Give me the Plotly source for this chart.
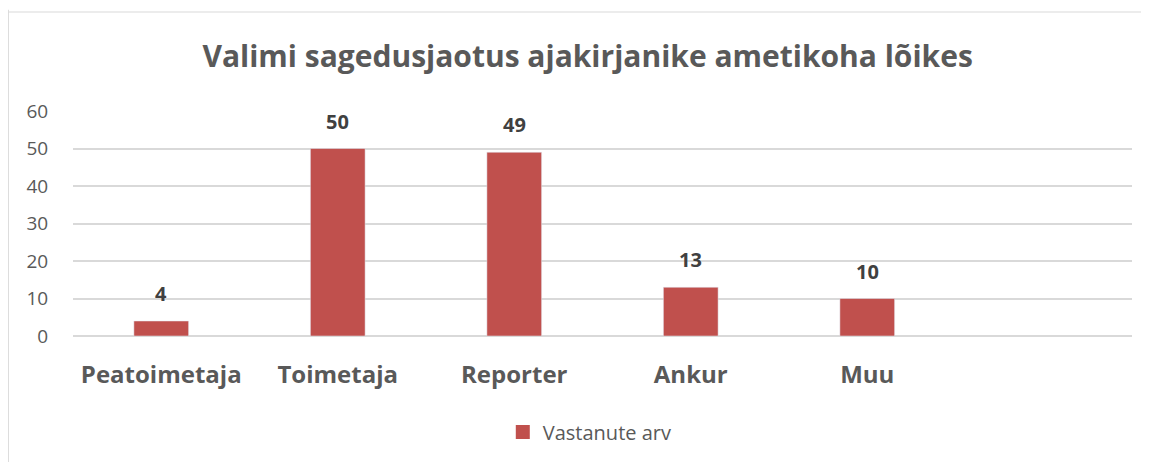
import plotly.graph_objects as go

# Data
categories = ['Peatoimetaja', 'Toimetaja', 'Reporter', 'Ankur', 'Muu']
values = [4, 50, 49, 13, 10]
series_name = 'Vastanute arv'
title_text = 'Valimi sagedusjaotus ajakirjanike ametikoha lõikes'

BAR_COLOR = '#C0504D'
TEXT_COLOR = '#595959'
GRID_COLOR = '#D9D9D9'
FONT = 'Open Sans, Lato, sans-serif'

fig = go.Figure()

fig.add_trace(go.Bar(
    x=categories,
    y=values,
    name=series_name,
    marker_color=BAR_COLOR,
    width=0.31,
    showlegend=False,
))

# legend-only entry so the swatch is a bigger square like the original
fig.add_trace(go.Scatter(
    x=[None], y=[None],
    mode='markers',
    name=series_name,
    marker=dict(symbol='square', size=14, color=BAR_COLOR),
    showlegend=True,
))

# Data labels above the bars
for cat, val in zip(categories, values):
    fig.add_annotation(
        x=cat, y=val, text=f'<b>{val}</b>',
        showarrow=False, yanchor='bottom', yshift=12,
        font=dict(family=FONT, size=20, color='#404040'),
    )

# Light border round the chart area (left and top edges visible)
fig.add_shape(type='line', xref='paper', yref='paper',
              x0=-0.061, x1=-0.061, y0=1.45, y1=-0.6,
              line=dict(color=GRID_COLOR, width=1))
fig.add_shape(type='line', xref='paper', yref='paper',
              x0=-0.061, x1=1.1, y0=1.44, y1=1.44,
              line=dict(color=GRID_COLOR, width=1))

# page body has an 8px margin, so the figure is 8px smaller and margins shifted
fig.update_layout(
    width=1141,
    height=454,
    paper_bgcolor='white',
    plot_bgcolor='white',
    margin=dict(l=65, r=17, t=103, b=125),
    title=dict(
        text=f'<b>{title_text}</b>',
        x=0.508, xanchor='center',
        y=0.893, yanchor='middle',
        font=dict(family=FONT, size=30, color=TEXT_COLOR),
    ),
    font=dict(family=FONT, color=TEXT_COLOR),
    legend=dict(
        orientation='h',
        x=0.488, xanchor='center',
        y=-0.42, yanchor='middle',
        font=dict(family=FONT, size=20, color=TEXT_COLOR),
    ),
)

fig.update_xaxes(
    type='category',
    range=[-0.5, 5.5],
    showline=False,
    showgrid=False,
    ticks='outside', ticklen=17, tickcolor='white',
    tickfont=dict(family=FONT, size=24, color=TEXT_COLOR, weight='bold'),
)

fig.update_yaxes(
    range=[0, 60],
    dtick=10,
    showgrid=True,
    gridcolor=GRID_COLOR,
    gridwidth=1.5,
    zeroline=True,
    zerolinecolor=GRID_COLOR,
    zerolinewidth=1.5,
    showline=False,
    ticks='outside', ticklen=20, tickcolor='white',
    tickfont=dict(family=FONT, size=19, color=TEXT_COLOR),
)

fig.write_html('out.html')
